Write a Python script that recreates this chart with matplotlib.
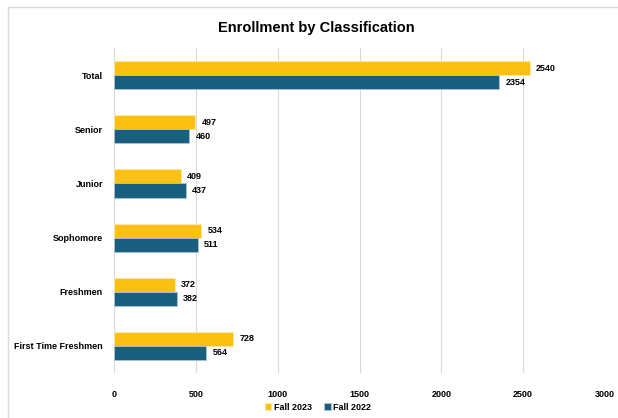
import numpy as np
import matplotlib
matplotlib.use("Agg")
import matplotlib.pyplot as plt
from matplotlib.patches import Rectangle

plt.rcParams["font.family"] = ["Liberation Sans", "DejaVu Sans"]
plt.rcParams["font.weight"] = "bold"

categories = ["First Time Freshmen", "Freshmen", "Sophomore", "Junior", "Senior", "Total"]
fall_2023 = [728, 372, 534, 409, 497, 2540]
fall_2022 = [564, 382, 511, 437, 460, 2354]
x_ticks = [0, 500, 1000, 1500, 2000, 2500, 3000]

YELLOW = "#FCC012"
BLUE = "#1A5F80"

fig = plt.figure(figsize=(6.18, 4.18), dpi=100)
# light border around the chart area
fig.patches.append(Rectangle((8 / 618, -0.1), 1.2, (418 - 7) / 418 + 0.1,
                             transform=fig.transFigure, fill=False,
                             edgecolor="#D9D9D9", linewidth=1.0))

ax = fig.add_axes([114 / 618, 1 - 373 / 418, (605 - 114) / 618, (373 - 48) / 418])

y = np.arange(len(categories))
h = 0.26
b23 = ax.barh(y + h / 2, fall_2023, height=h, color=YELLOW, edgecolor="#FFE9A8",
              linewidth=0.6, label="Fall 2023", zorder=3)
b22 = ax.barh(y - h / 2, fall_2022, height=h, color=BLUE, edgecolor="#A9C4D2",
              linewidth=0.6, label="Fall 2022", zorder=3)

for bars in (b23, b22):
    for bar in bars:
        w = bar.get_width()
        ax.annotate(f"{int(w)}", (w, bar.get_y() + bar.get_height() / 2),
                    xytext=(4.5, 0), textcoords="offset points",
                    va="center", ha="left", fontsize=6.5, fontweight="bold")

ax.set_xlim(0, 3000)
ax.set_ylim(-0.5, len(categories) - 0.5)
ax.set_xticks(x_ticks)
ax.set_yticks(y)
ax.set_yticklabels(categories)
ax.tick_params(axis="both", length=0, labelsize=6.5)
ax.tick_params(axis="y", pad=8)
ax.tick_params(axis="x", pad=12)
ax.grid(axis="x", color="#D9D9D9", linewidth=0.8, zorder=0)
for s in ax.spines.values():
    s.set_visible(False)

fig.text(316 / 618, 1 - 28 / 418, "Enrollment by Classification",
         ha="center", va="center", fontsize=10.5, fontweight="bold")

fig.legend(handles=[b23, b22], loc="center", bbox_to_anchor=(318 / 618, 1 - 407 / 418),
           ncol=2, frameon=False, fontsize=6.5, handlelength=0.7, handleheight=0.7,
           handletextpad=0.3, columnspacing=1.4)

fig.savefig("out.png", dpi=100)
